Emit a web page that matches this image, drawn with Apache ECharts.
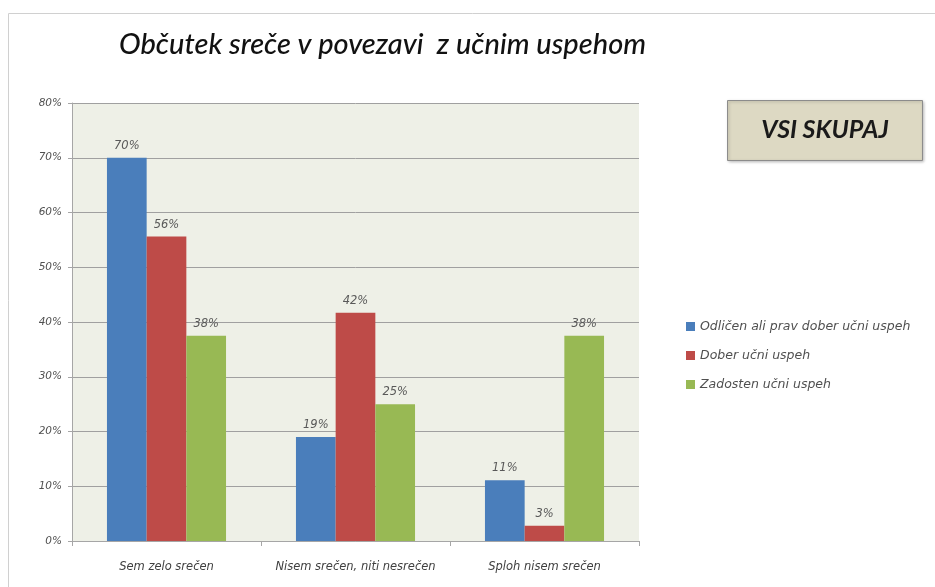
<!DOCTYPE html>
<html><head><meta charset="utf-8">
<script src="https://cdn.jsdelivr.net/npm/echarts@6/dist/echarts.min.js"></script>
<style>html,body{margin:0;padding:0;background:#fff}#c{width:935px;height:587px}</style>
</head><body><div id="c"></div>
<script>
const categories = ['Sem zelo srečen', 'Nisem srečen, niti nesrečen', 'Sploh nisem srečen'];
const seriesNames = ['Odličen ali prav dober učni uspeh', 'Dober učni uspeh', 'Zadosten učni uspeh'];
const odlicen = [70, 19, 11.1];
const dober = [55.6, 41.7, 2.8];
const zadosten = [37.5, 25, 37.5];
const colors = ['#4a7ebb', '#be4b48', '#98b954'];
const yTicks = [0, 10, 20, 30, 40, 50, 60, 70, 80];

const font = 'Lato, "Open Sans", sans-serif';
const small = '"DejaVu Sans", sans-serif';
const chart = echarts.init(document.getElementById('c'));
const mk = (name, data, color) => ({
  name, type: 'bar', data, barGap: '0%', barCategoryGap: '37%',
  itemStyle: { color },
  label: { show: true, position: 'top', distance: 6, formatter: p => Math.round(p.value) + '%',
    fontFamily: small, fontStyle: 'italic', fontSize: 11.5, color: '#595959' }
});
chart.setOption({
  animation: false,
  title: { text: 'Občutek sreče v povezavi  z učnim uspehom', left: 114, top: 25,
    textStyle: { fontFamily: font, fontStyle: 'italic', fontWeight: 500, fontSize: 29, color: '#111' } },
  grid: { left: 72, right: 296, top: 103, bottom: 46, show: true, backgroundColor: '#eef0e7', borderWidth: 0 },
  legend: { orient: 'vertical', left: 681, top: 315, itemGap: 16, itemWidth: 9, itemHeight: 9,
    icon: 'rect', data: seriesNames,
    textStyle: { fontFamily: small, fontStyle: 'italic', fontSize: 12.5, color: '#505050' } },
  xAxis: { type: 'category', data: categories,
    axisLine: { lineStyle: { color: '#a6a6a6' } },
    axisTick: { show: true, interval: 0, length: 5, lineStyle: { color: '#a6a6a6' } },
    axisLabel: { interval: 0, hideOverlap: false, fontFamily: small, fontStyle: 'italic', fontSize: 11.5, color: '#404040', margin: 20 } },
  yAxis: { type: 'value', min: 0, max: 80, interval: 10,
    axisLine: { show: true, lineStyle: { color: '#a6a6a6' } },
    axisTick: { show: true, length: 4, lineStyle: { color: '#a6a6a6' } },
    splitLine: { lineStyle: { color: '#a0a0a0' } },
    axisLabel: { formatter: v => v + '%', fontFamily: small, fontStyle: 'italic', fontSize: 10.5, color: '#505050', margin: 10 } },
  series: [mk(seriesNames[0], odlicen, colors[0]), mk(seriesNames[1], dober, colors[1]), mk(seriesNames[2], zadosten, colors[2])],
  graphic: [
    { type: 'rect', shape: { x: 8.5, y: 13.5, width: 930, height: 580 }, style: { fill: null, stroke: '#d0d0d0', lineWidth: 1 }, z: -10 },
    { type: 'rect', shape: { x: 727.5, y: 100.5, width: 195, height: 60 },
      style: { fill: '#ddd9c3', stroke: '#8c8c8c', lineWidth: 1, shadowBlur: 3, shadowColor: 'rgba(0,0,0,0.25)', shadowOffsetX: 1, shadowOffsetY: 1 } },
    { type: 'text', x: 825, y: 130, z: 10, style: { text: 'VSI SKUPAJ', align: 'center', verticalAlign: 'middle',
      font: 'italic bold 25px ' + font, fill: '#1a1a1a' } }
  ]
});
</script></body></html>
